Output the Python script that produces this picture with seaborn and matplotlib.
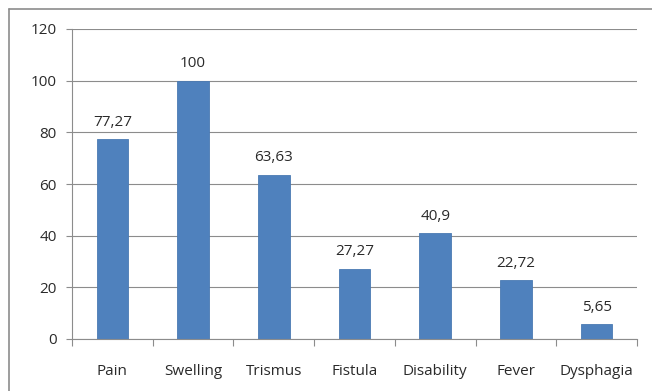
import matplotlib
matplotlib.use("Agg")
import matplotlib.pyplot as plt
from matplotlib.lines import Line2D
from matplotlib.ticker import FixedLocator
import seaborn as sns
import pandas as pd

symptoms = ["Pain", "Swelling", "Trismus", "Fistula", "Disability", "Fever", "Dysphagia"]
percentages = [77.27, 100, 63.63, 27.27, 40.9, 22.72, 5.65]
value_labels = ["77,27", "100", "63,63", "27,27", "40,9", "22,72", "5,65"]
y_ticks = [0, 20, 40, 60, 80, 100, 120]

sns.set_theme(style="white")
plt.rcParams["font.family"] = ["Open Sans", "DejaVu Sans"]

df = pd.DataFrame({"symptom": symptoms, "pct": percentages})

fig = plt.figure(figsize=(6.52, 3.91), dpi=100)
ax = fig.add_axes([72 / 652, 1 - 339 / 391, 565 / 652, 310 / 391])

sns.barplot(data=df, x="symptom", y="pct", order=symptoms, color="#4F81BD",
            saturation=1, width=0.39, ax=ax)
for p in ax.patches:
    p.set_edgecolor("#4A7AB3")
    p.set_linewidth(0.6)

ax.set_xlim(-0.5, len(symptoms) - 0.5)
ax.set_ylim(0, 120)
ax.set_yticks(y_ticks)
ax.set_yticklabels([str(t) for t in y_ticks])
ax.yaxis.grid(True, color="#8C8C8C", linewidth=0.8)
ax.set_axisbelow(True)

for s in ["top", "right"]:
    ax.spines[s].set_visible(False)
for s in ["left", "bottom"]:
    ax.spines[s].set_color("#8C8C8C")
    ax.spines[s].set_linewidth(0.8)

text_color = "#2A2A2A"
ax.xaxis.set_minor_locator(FixedLocator([i - 0.5 for i in range(len(symptoms) + 1)]))
ax.tick_params(axis="x", which="major", length=0, pad=18, labelsize=11, colors=text_color)
ax.tick_params(axis="x", which="minor", length=5, width=0.8, color="#8C8C8C", bottom=True)
ax.tick_params(axis="y", which="major", length=4, width=0.8, color="#8C8C8C", left=True,
               pad=7, labelsize=11, labelcolor=text_color)
ax.set_xlabel("")
ax.set_ylabel("")

for i, (v, lab) in enumerate(zip(percentages, value_labels)):
    ax.annotate(lab, (i, v), xytext=(0, 7), textcoords="offset points",
                ha="center", va="bottom", fontsize=11, color=text_color)

# chart frame: top and left edges (the rest runs off the canvas)
fig.lines.append(Line2D([9 / 652, 1.0], [1 - 9 / 391, 1 - 9 / 391],
                        transform=fig.transFigure, color="#8C8C8C", linewidth=1.2))
fig.lines.append(Line2D([9 / 652, 9 / 652], [0.0, 1 - 9 / 391],
                        transform=fig.transFigure, color="#8C8C8C", linewidth=1.2))

fig.savefig("out.png", dpi=100, facecolor="white")
